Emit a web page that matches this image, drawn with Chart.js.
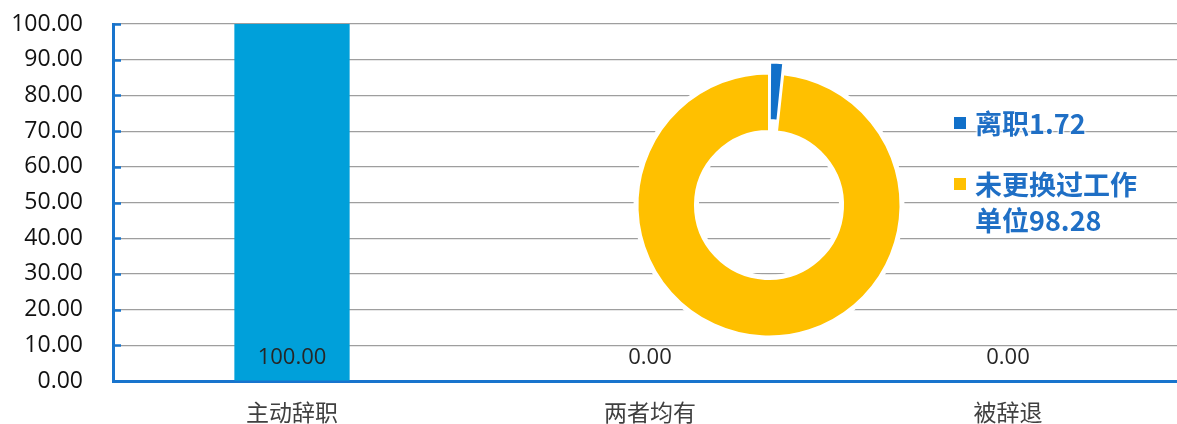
<!DOCTYPE html>
<html>
<head>
<meta charset="utf-8">
<script src="https://cdn.jsdelivr.net/npm/chart.js@4.4.0/dist/chart.umd.min.js"></script>
<style>
  html, body { margin:0; padding:0; background:#fff; }
  body { width:1177px; height:424px; overflow:hidden; position:relative; }
  #barWrap { position:absolute; left:0; top:0; width:1190px; height:424px; }
  #pieWrap { position:absolute; left:609px; top:45px; width:320px; height:320px; }
  #legend { position:absolute; left:954px; top:105px; font-family:'Noto Sans CJK SC','Noto Sans',sans-serif; font-weight:bold; font-size:27px; color:#1F6FC5; }
  .item { position:relative; padding-left:21px; width:176px; line-height:36px; margin-bottom:25px;
          text-shadow:0 0 2px #fff,0 0 2px #fff,0 0 3px #fff,0 0 3px #fff; }
  .mk { position:absolute; left:0; top:12px; width:12px; height:12px; }
</style>
</head>
<body>
<div id="barWrap"><canvas id="bar" width="1190" height="424"></canvas></div>
<div id="pieWrap"><canvas id="pie" width="320" height="320"></canvas></div>
<div id="legend"></div>
<script>
// ---- data ----
const categories = ['主动辞职', '两者均有', '被辞退'];
const barValues = [100, 0, 0];
const yMin = 0, yMax = 100, yStep = 10;
const pieLabels = ['离职', '未更换过工作单位'];
const pieValues = [1.72, 98.28];
const pieColors = ['#1170C9', '#FFC000'];

const axisBlue = '#1874CD';

// inward tick marks + value labels at base
const barExtras = {
  id: 'barExtras',
  afterDatasetsDraw(chart) {
    const ctx = chart.ctx;
    const ys = chart.scales.y;
    const area = chart.chartArea;
    ctx.save();
    ctx.strokeStyle = axisBlue;
    ctx.lineWidth = 2.5;
    for (let v = yMin; v <= yMax; v += yStep) {
      const py = Math.round(ys.getPixelForValue(v)) + 0.5;
      ctx.beginPath();
      ctx.moveTo(area.left, py);
      ctx.lineTo(area.left + 8, py);
      ctx.stroke();
    }
    const meta = chart.getDatasetMeta(0);
    ctx.fillStyle = '#262626';
    ctx.font = '22px "Open Sans"';
    ctx.textAlign = 'center';
    ctx.textBaseline = 'middle';
    meta.data.forEach((el, i) => {
      ctx.fillText(barValues[i].toFixed(2), el.x, el.base - 23);
    });
    ctx.restore();
  }
};

new Chart(document.getElementById('bar'), {
  type: 'bar',
  data: {
    labels: categories,
    datasets: [{
      data: barValues,
      backgroundColor: '#00A0DA',
      categoryPercentage: 1,
      barPercentage: 0.322
    }]
  },
  options: {
    responsive: false,
    animation: false,
    layout: { padding: { top: 24, right: 3, left: 0, bottom: 0 } },
    plugins: { legend: { display: false }, tooltip: { enabled: false } },
    scales: {
      y: {
        min: yMin, max: yMax,
        ticks: {
          stepSize: yStep,
          callback: v => Number(v).toFixed(2),
          padding: 30,
          color: '#111',
          font: { family: 'Open Sans', size: 23 }
        },
        grid: { color: '#9E9E9E', lineWidth: 1.2, drawTicks: false },
        border: { color: axisBlue, width: 3 },
        afterFit(s) { s.width = 113; s.paddingTop = 0; s.paddingBottom = 0; }
      },
      x: {
        grid: { display: false, drawTicks: false },
        border: { color: axisBlue, width: 3 },
        ticks: {
          padding: 17,
          color: '#404040',
          font: { family: 'Noto Sans CJK SC', size: 23 }
        },
        afterFit(s) { s.height = 43; }
      }
    }
  },
  plugins: [barExtras]
});

// white halo behind ring
const halo = {
  id: 'halo',
  beforeDatasetsDraw(chart) {
    const a = chart.getDatasetMeta(0).data[1];
    const ctx = chart.ctx;
    ctx.save();
    ctx.beginPath();
    ctx.arc(a.x, a.y, a.outerRadius + 4, 0, Math.PI * 2);
    ctx.arc(a.x, a.y, Math.max(a.innerRadius - 4, 0), 0, Math.PI * 2, true);
    ctx.fillStyle = '#fff';
    ctx.fill();
    ctx.restore();
  }
};

new Chart(document.getElementById('pie'), {
  type: 'doughnut',
  data: {
    labels: pieLabels,
    datasets: [{
      data: pieValues,
      backgroundColor: pieColors,
      borderColor: '#fff',
      borderWidth: 2,
      offset: [23, 0]
    }]
  },
  options: {
    responsive: false,
    animation: false,
    radius: 131.5,
    cutout: '56.3%',
    layout: { padding: 0 },
    plugins: { legend: { display: false }, tooltip: { enabled: false } }
  },
  plugins: [halo]
});

// legend
const lg = document.getElementById('legend');
pieLabels.forEach((l, i) => {
  const d = document.createElement('div');
  d.className = 'item';
  const m = document.createElement('span');
  m.className = 'mk';
  m.style.background = pieColors[i];
  d.appendChild(m);
  d.appendChild(document.createTextNode(l + pieValues[i].toFixed(2)));
  lg.appendChild(d);
});
</script>
</body>
</html>
